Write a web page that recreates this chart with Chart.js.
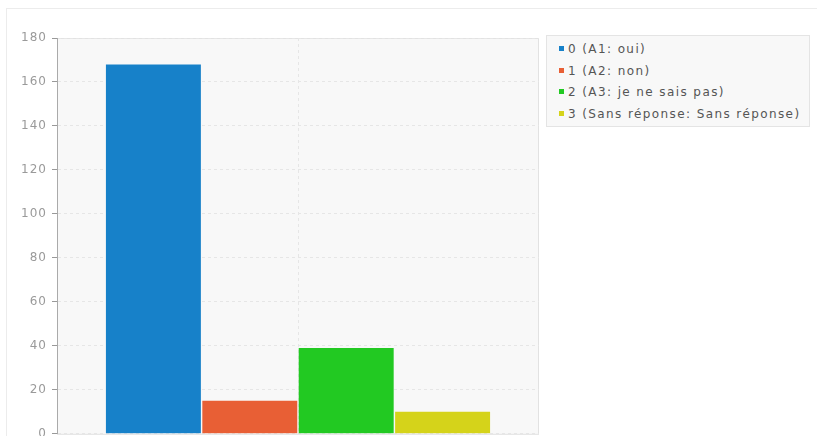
<!DOCTYPE html>
<html>
<head>
<meta charset="utf-8">
<script src="https://cdn.jsdelivr.net/npm/chart.js@4/dist/chart.umd.min.js"></script>
<style>
  html, body { margin: 0; padding: 0; background: #fff; }
  body { width: 817px; height: 436px; position: relative; overflow: hidden; font-family: "DejaVu Sans", sans-serif; }
  .frame { position: absolute; left: 6px; top: 8px; width: 830px; height: 450px; border: 1px solid #ececec; box-sizing: border-box; }
  #wrap { position: absolute; left: 0; top: 0; width: 560px; height: 446px; }
  #legend { position: absolute; left: 546px; top: 35px; width: 264px; height: 92px; background: #f8f8f8; border: 1px solid #e4e4e4; box-sizing: border-box; padding: 3px 0 0 12px; }
  .item { height: 21.7px; line-height: 21.7px; font-size: 12px; letter-spacing: 1.4px; color: #555; white-space: nowrap; }
  .item i { display: inline-block; width: 5px; height: 5px; margin-right: 4px; vertical-align: middle; position: relative; top: -1px; }
</style>
</head>
<body>
<div class="frame"></div>
<div id="wrap"><canvas id="chart"></canvas></div>
<div id="legend"></div>
<script>
// données
const categories = [''];
const seriesLabels = ['0 (A1: oui)', '1 (A2: non)', '2 (A3: je ne sais pas)', '3 (Sans réponse: Sans réponse)'];
const seriesValues = [168, 15, 39, 10];
const seriesColors = ['#1781c9', '#e85f35', '#22c922', '#d5d31a'];
const yTicks = [0, 20, 40, 60, 80, 100, 120, 140, 160, 180];

// fond gris de la zone de tracé + bordure
const plotBg = {
    id: 'plotBg',
    beforeDraw(chart) {
        const a = chart.chartArea, ctx = chart.ctx;
        ctx.letterSpacing = '1px'; // graduations un peu plus larges, comme sur l'image
        ctx.save();
        ctx.fillStyle = '#f8f8f8';
        ctx.fillRect(a.left, a.top, a.right - a.left, a.bottom - a.top);
        ctx.strokeStyle = '#e2e2e2';
        ctx.lineWidth = 1;
        ctx.strokeRect(a.left + 0.5, a.top + 0.5, a.right - a.left - 1, a.bottom - a.top);
        ctx.restore();
    }
};

const datasets = seriesLabels.map((label, i) => ({
    label: label,
    data: [seriesValues[i]],
    backgroundColor: seriesColors[i],
    borderWidth: 0,
    barPercentage: 0.985,
    categoryPercentage: 0.8
}));

const chart = new Chart(document.getElementById('chart'), {
    type: 'bar',
    data: { labels: categories, datasets: datasets },
    options: {
        responsive: true,
        maintainAspectRatio: false,
        animation: false,
        layout: { padding: { top: 38, right: 21, bottom: 3, left: 0 } },
        plugins: { legend: { display: false }, tooltip: { enabled: false } },
        scales: {
            x: {
                grid: { display: true, offset: false, color: '#e6e6e6', drawTicks: false },
                border: { display: false, dash: [3, 3] },
                ticks: { display: false },
                afterFit(scale) { scale.height = 0; }
            },
            y: {
                min: 0,
                max: 180,
                afterBuildTicks(scale) { scale.ticks = yTicks.map(v => ({ value: v })); },
                grid: { color: '#e6e6e6', tickColor: '#999', tickLength: 5, tickBorderDash: [] },
                border: { display: true, color: '#aaa', dash: [3, 3] },
                ticks: { color: '#9a9a9a', font: { family: 'DejaVu Sans', size: 12 }, padding: 5 },
                afterFit(scale) { scale.width = 57; }
            }
        }
    },
    plugins: [plotBg]
});

// légende
const legend = document.getElementById('legend');
seriesLabels.forEach((label, i) => {
    const el = document.createElement('div');
    el.className = 'item';
    el.innerHTML = `<i style="background:${seriesColors[i]}"></i>${label}`;
    legend.appendChild(el);
});
</script>
</body>
</html>
